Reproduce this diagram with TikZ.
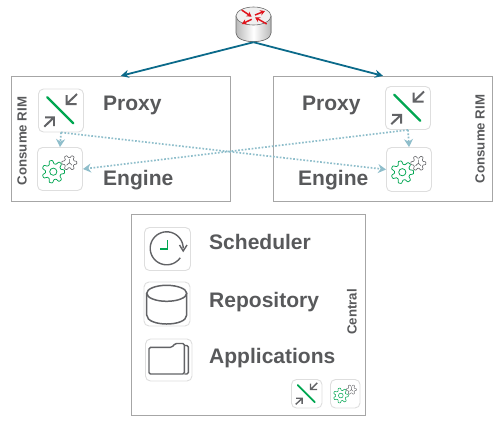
\documentclass[tikz,border=0pt]{standalone}
\usepackage{fontspec}
\setmainfont{Liberation Sans}
\usetikzlibrary{arrows.meta, positioning, calc}
\definecolor{inkgray}{HTML}{58595B}
\definecolor{framegray}{HTML}{A6A6A6}
\definecolor{tilegray}{HTML}{DEDEDE}
\definecolor{iconline}{HTML}{626366}
\definecolor{icongreen}{HTML}{00A651}
\definecolor{linkblue}{HTML}{0B6A8A}
\definecolor{dotblue}{HTML}{8FBECB}
\definecolor{routerred}{HTML}{E0141C}

\tikzset{
    pics/proxyicon/.style={code={
        \draw[icongreen, line width=2.4*#1 pt, line cap=round] (-13.7,-13.2) -- (12.3,12.8);
        \draw[iconline, line width=2*#1 pt] (5.7,-6.5) -- (16,-16.5) (5.7,-15.5) -- (5.7,-6.5) -- (15.7,-6.5);
        \draw[iconline, line width=2*#1 pt] (-7,6.8) -- (-16.7,16.2) (-16,6.8) -- (-7,6.8) -- (-7,15.5);
    }},
    pics/engineicon/.style={code={
        \draw[icongreen, line width=.75*#1 pt, fill=white, line join=round] plot[samples=113, domain=0:360]
            ({-6.7+(9.6+1.7*max(-1,min(1,1.8*sin(7*\x+90))))*cos(\x)}, {2.7+(9.6+1.7*max(-1,min(1,1.8*sin(7*\x+90))))*sin(\x)}) -- cycle;
        \draw[icongreen, line width=.75*#1 pt] (-6.7,2.7) circle[radius=3.6];
        \draw[iconline, line width=.6*#1 pt, fill=white, line join=round] plot[samples=97, domain=0:360]
            ({9.3+(6.3+1.2*max(-1,min(1,1.8*sin(6*\x+90))))*cos(\x)}, {-6.3+(6.3+1.2*max(-1,min(1,1.8*sin(6*\x+90))))*sin(\x)}) -- cycle;
        \draw[iconline, line width=.6*#1 pt] (9.3,-10) -- (9.3,-6.3) -- (6.6,-3.8) (9.3,-6.3) -- (12,-3.8);
    }},
}

\begin{document}
\begin{tikzpicture}[
    x=1bp, y=-1bp,
    frame/.style={draw=framegray, line width=1pt, inner sep=0pt},
    tile/.style={draw=tilegray, fill=white, line width=.9pt, rounded corners=5pt, inner sep=0pt},
    title/.style={font=\fontsize{21.1}{24}\selectfont\bfseries, text=inkgray, anchor=west, inner sep=0pt},
    side/.style={font=\fontsize{13.3}{16}\selectfont\bfseries, text=inkgray, rotate=90, inner sep=0pt},
    uplink/.style={-{Stealth[length=8bp, width=8bp]}, draw=linkblue, line width=1.8pt},
    dotlink/.style={-{Stealth[length=8bp, width=9bp]}, draw=dotblue, line width=1.7pt, dash pattern=on 1.7pt off 1.7pt},
    routerarr/.style={-{Stealth[length=5bp, width=5.5bp]}, draw=routerred, line width=1.5pt},
]
\useasboundingbox (0,0) rectangle (502,425);

% outer boxes
\node[frame, minimum width=219bp, minimum height=124.7bp] (rimL) at (120.8,138.7) {};
\node[frame, minimum width=218.6bp, minimum height=124.7bp] (rimR) at (383,138.7) {};
\node[frame, minimum width=234.4bp, minimum height=201bp] (central) at (248.5,314.8) {};

% router
\node[inner sep=0pt, minimum width=35bp, minimum height=34bp] (router) at (253.5,25) {};
\fill[left color=gray!55, right color=gray!55, middle color=white, draw=gray!85!black, line width=.6pt]
    (236,16) -- (236,33) .. controls (236,44.5) and (271,44.5) .. (271,33) -- (271,16) -- cycle;
\draw[fill=gray!12, draw=gray!85!black, line width=.6pt] (253.5,16) ellipse[x radius=17.5, y radius=9];
\foreach \a/\b/\c/\d in {241.7/10/251.7/16.7, 266.7/24/255/17.3, 255/15/265/11, 251.7/19.3/241.7/24} {
    \draw[routerarr] (\a,\b) -- (\c,\d);
}

% tiles
\node[tile, minimum width=45bp, minimum height=43bp] (proxyL) at (61,110.5) {};
\node[tile, minimum width=45bp, minimum height=43bp] (engineL) at (60,169) {};
\node[tile, minimum width=45bp, minimum height=43bp] (proxyR) at (408,108) {};
\node[tile, minimum width=45bp, minimum height=44bp] (engineR) at (409,169.5) {};
\node[tile, minimum width=46bp, minimum height=43bp] (sched) at (167.5,249) {};
\node[tile, minimum width=46bp, minimum height=44bp] (repo) at (167,304) {};
\node[tile, minimum width=46.5bp, minimum height=42bp] (apps) at (168.75,360) {};
\node[tile, minimum width=30.5bp, minimum height=28.5bp] (proxyC) at (306.75,393.75) {};
\node[tile, minimum width=29.5bp, minimum height=28.5bp] (engineC) at (345.25,393.75) {};

\pic at (proxyL) {proxyicon=1};
\pic at (engineL) {engineicon=1};
\pic at (proxyR) {proxyicon=1};
\pic at (engineR) {engineicon=1};
\pic[scale=.66] at (proxyC) {proxyicon=.7};
\pic[scale=.66] at (engineC) {engineicon=.7};

% scheduler icon
\draw[iconline, line width=1.4pt] plot[smooth, samples=40, domain=35:360] ({166.7+16.5*cos(\x)}, {248.3+16.5*sin(\x)});
\draw[iconline, line width=1.4pt] (179.5,245) -- (183.2,251) -- (187,245);
\draw[icongreen, line width=1.4pt] (167.3,240) -- (167.3,249) -- (160.3,249);

% repository icon
\draw[iconline, line width=1.5pt] (166.7,293.3) ellipse[x radius=20, y radius=8];
\draw[iconline, line width=1.5pt] (146.7,293.3) -- (146.7,315) .. controls (146.7,327) and (186.7,327) .. (186.7,315) -- (186.7,293.3);

% applications icon
\draw[iconline, line width=1.4pt, rounded corners=1.5pt] (149,347.3) -- (172,347.3) -- (175,343.5) -- (184.3,343.5) -- (184.3,374) -- (149,374) -- cycle;
\draw[iconline, line width=1.4pt, rounded corners=1.5pt] (184.3,345.5) -- (188.3,345.5) -- (188.3,374) -- (184.3,374);

% labels
\node[title] (proxyLtxt) at (103,105) {Proxy};
\node[title] (engineLtxt) at (103,180) {Engine};
\node[title] (proxyRtxt) at (302,105) {Proxy};
\node[title] (engineRtxt) at (298,180) {Engine};
\node[title] (schedtxt) at (209,242) {Scheduler};
\node[title] (repotxt) at (209,302) {Repository};
\node[title] (appstxt) at (209,358) {Applications};
\node[side] (rimLtxt) at (22,141) {Consume RIM};
\node[side] (rimRtxt) at (480,139) {Consume RIM};
\node[side] (centraltxt) at (352,312) {Central};

% connectors
\draw[uplink] (router.south) -- (rimL.north);
\draw[uplink] (router.south) -- (rimR.north);
\draw[dotlink] (proxyL.south) -- (engineL.north);
\draw[dotlink] (proxyR.south) -- (engineR.north);
\draw[dotlink] (proxyL.south) -- (engineR.west);
\draw[dotlink] (proxyR.south) -- (engineL.east);

\end{tikzpicture}
\end{document}
